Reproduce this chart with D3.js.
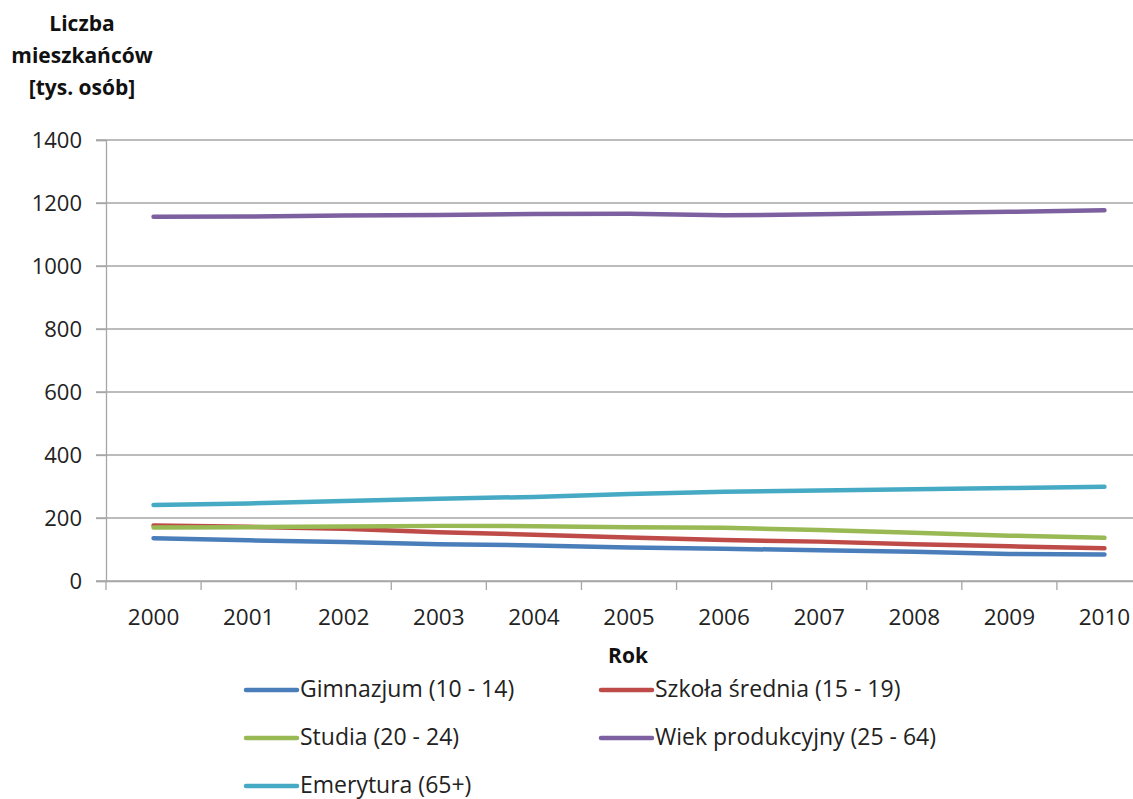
<!DOCTYPE html>
<html>
<head>
<meta charset="utf-8">
<script src="https://cdn.jsdelivr.net/npm/d3@7"></script>
<style>
  html, body { margin: 0; padding: 0; background: #fff; }
  svg { display: block; font-family: "Open Sans", Lato, sans-serif; }
</style>
</head>
<body>
<svg id="chart" width="1133" height="799"></svg>
<script>
// Years on the category axis
const years = ["2000","2001","2002","2003","2004","2005","2006","2007","2008","2009","2010"];

// Population by age group, thousands of people
const gimnazjum = [136, 129, 124, 117, 113, 106, 102, 98, 93, 86, 84];
const szkolaSrednia = [176, 172, 166, 155, 147, 138, 130, 125, 117, 110, 104];
const studia = [170, 171, 173, 175, 174, 171, 169, 162, 153, 144, 137];
const wiekProdukcyjny = [1156, 1157, 1160, 1162, 1165, 1166, 1161, 1164, 1168, 1172, 1177];
const emerytura = [241, 246, 254, 261, 267, 276, 283, 287, 291, 295, 299];

const seriesNames = ["Gimnazjum (10 - 14)", "Szkoła średnia (15 - 19)", "Studia (20 - 24)", "Wiek produkcyjny (25 - 64)", "Emerytura (65+)"];
const seriesColors = ["#4a7ebb", "#be4b48", "#98b954", "#7d60a0", "#46aac5"];
const yTicks = [0, 200, 400, 600, 800, 1000, 1200, 1400];

const seriesValues = [gimnazjum, szkolaSrednia, studia, wiekProdukcyjny, emerytura];
const series = seriesNames.map((name, i) => ({ name, color: seriesColors[i], values: seriesValues[i] }));

const svg = d3.select("#chart");
const plotLeft = 106, plotRight = 1152, plotTop = 140, plotBottom = 581;
const axisGrey = "#a6a6a6";
const textColor = "#222";

const x = d3.scaleBand().domain(years).range([plotLeft, plotRight]);
const y = d3.scaleLinear().domain([0, 1400]).range([plotBottom, plotTop]);

// Horizontal gridlines
svg.append("g")
  .selectAll("line")
  .data(yTicks)
  .join("line")
  .attr("x1", plotLeft - 10).attr("x2", plotRight)
  .attr("y1", d => y(d)).attr("y2", d => y(d))
  .attr("stroke", axisGrey).attr("stroke-width", 1.3);

// Y axis
const yAxis = svg.append("g")
  .attr("transform", `translate(${plotLeft},0)`)
  .call(d3.axisLeft(y).tickValues(yTicks).tickFormat(d3.format("d")).tickSize(10).tickPadding(14));
yAxis.select(".domain").attr("stroke", axisGrey).attr("stroke-width", 1.3);
yAxis.selectAll(".tick line").attr("stroke", axisGrey).attr("stroke-width", 1.3);
yAxis.selectAll(".tick text").attr("font-size", 22).attr("fill", textColor).attr("font-family", "'Open Sans', sans-serif");

// X axis with ticks between categories
const xAxis = svg.append("g")
  .attr("transform", `translate(0,${plotBottom})`)
  .call(d3.axisBottom(x).tickSize(0).tickPadding(28));
xAxis.select(".domain").attr("stroke", axisGrey).attr("stroke-width", 1.3);
xAxis.selectAll(".tick text").attr("font-size", 22.5).attr("fill", textColor).attr("font-family", "'Open Sans', sans-serif");
svg.append("g")
  .selectAll("line")
  .data(years)
  .join("line")
  .attr("x1", d => x(d)).attr("x2", d => x(d))
  .attr("y1", plotBottom).attr("y2", plotBottom + 9)
  .attr("stroke", axisGrey).attr("stroke-width", 1.3);

// Series lines
const line = d3.line()
  .x((d, i) => x(years[i]) + x.bandwidth() / 2)
  .y(d => y(d));

svg.append("g")
  .selectAll("path")
  .data(series)
  .join("path")
  .attr("d", d => line(d.values))
  .attr("fill", "none")
  .attr("stroke", d => d.color)
  .attr("stroke-width", 4.5)
  .attr("stroke-linecap", "round")
  .attr("stroke-linejoin", "round");

// Y axis title
const yTitle = svg.append("text")
  .attr("text-anchor", "middle")
  .attr("font-size", 21).attr("font-weight", "bold").attr("fill", "#111");
["Liczba", "mieszkańców", "[tys. osób]"].forEach((t, i) => {
  yTitle.append("tspan").attr("x", 82).attr("y", 31 + i * 32).text(t);
});

// X axis title
svg.append("text")
  .attr("x", 628).attr("y", 663)
  .attr("text-anchor", "middle")
  .attr("font-size", 21).attr("font-weight", "bold").attr("fill", "#111")
  .text("Rok");

// Legend
const legend = svg.append("g")
  .selectAll("g")
  .data(series)
  .join("g")
  .attr("transform", (d, i) => `translate(${i % 2 === 0 ? 246 : 601},${690 + Math.floor(i / 2) * 48})`);
legend.append("line")
  .attr("x1", 0).attr("x2", 51).attr("y1", 0).attr("y2", 0)
  .attr("stroke", d => d.color).attr("stroke-width", 4.5).attr("stroke-linecap", "round");
legend.append("text")
  .attr("x", 54).attr("y", 7)
  .attr("font-size", 23).attr("fill", textColor)
  .text(d => d.name);
</script>
</body>
</html>
